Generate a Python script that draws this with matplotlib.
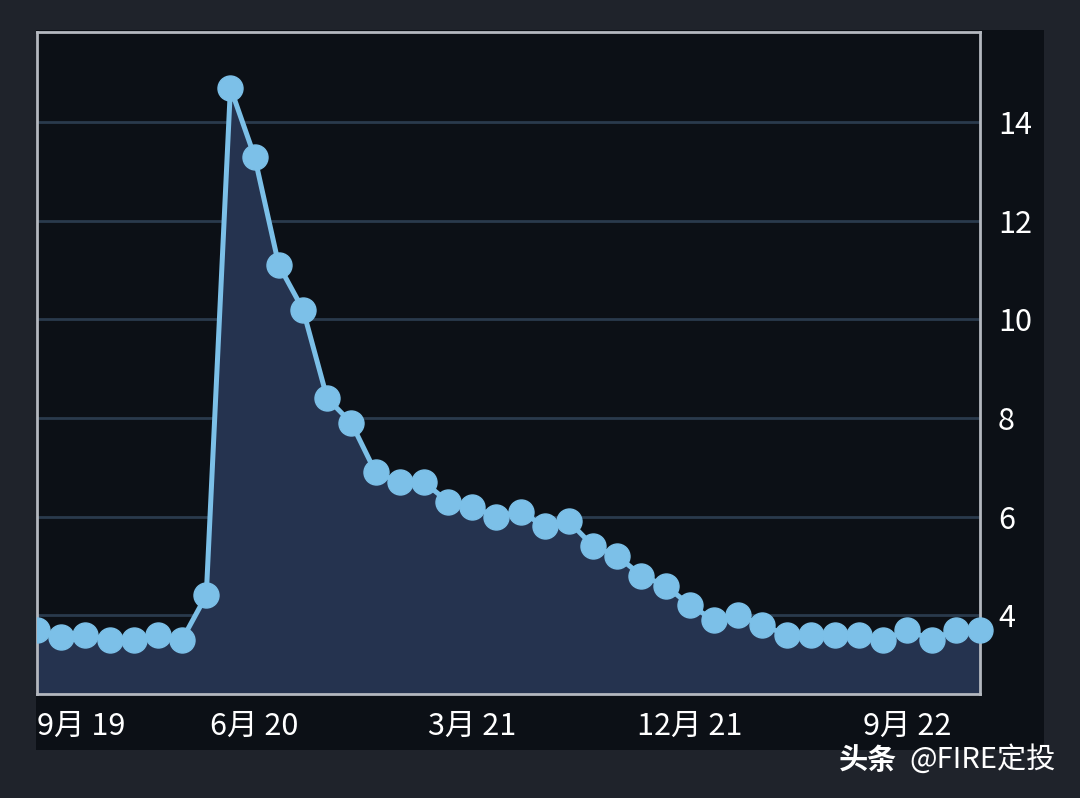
import matplotlib
matplotlib.use("Agg")
import matplotlib.pyplot as plt
from matplotlib.patches import Rectangle
from matplotlib.transforms import Bbox, TransformedBbox

plt.rcParams['font.family'] = ['Noto Sans CJK SC', 'DejaVu Sans']

# monthly values, Sep 2019 .. Dec 2022
values = [3.7, 3.55, 3.6, 3.5, 3.5, 3.6, 3.5, 4.4, 14.7, 13.3,
          11.1, 10.2, 8.4, 7.9, 6.9, 6.7, 6.7, 6.3, 6.2, 6.0,
          6.1, 5.8, 5.9, 5.4, 5.2, 4.8, 4.6, 4.2, 3.9, 4.0,
          3.8, 3.6, 3.6, 3.6, 3.6, 3.5, 3.7, 3.5, 3.7, 3.7]
tick_pos = [0, 9, 18, 27, 36]
tick_labels = ["9月 19", "6月 20", "3月 21", "12月 21", "9月 22"]
y_ticks = [4, 6, 8, 10, 12, 14]

W, H = 1080, 798
fig = plt.figure(figsize=(W / 100, H / 100), dpi=100)
fig.patch.set_facecolor('#1f232b')

# dark panel behind the chart
fig.patches.append(Rectangle((36 / W, (H - 750) / H), (1044 - 36) / W, (750 - 30) / H,
                             transform=fig.transFigure, facecolor='#0c1016',
                             edgecolor='none', zorder=-5))

ax = fig.add_axes([37 / W, (H - 694) / H, (980 - 37) / W, (694 - 32) / H])
ax.set_facecolor('#0c1016')

x = list(range(len(values)))
ymin, ymax = 2.4, 15.83
ax.set_xlim(0, len(values) - 1)
ax.set_ylim(ymin, ymax)

ax.fill_between(x, values, ymin, color='#25334f', zorder=1)
line, = ax.plot(x, values, color='#7cc0e8', lw=3.6, marker='o', ms=18,
                mec='#7cc0e8', mfc='#7cc0e8', zorder=3)
line.set_clip_path(None)
line.set_clip_box(TransformedBbox(Bbox([[37 / W, 0], [1, 1]]), fig.transFigure))
line.set_clip_on(True)

for y in y_ticks:
    ax.axhline(y, color='#2a3a4c', lw=2, zorder=0.5)

for s in ax.spines.values():
    s.set_color('#b4b8bf')
    s.set_linewidth(2)
    s.set_zorder(2)

ax.yaxis.tick_right()
ax.set_yticks(y_ticks)
ax.set_yticklabels([str(v) for v in y_ticks])
ax.set_xticks(tick_pos)
ax.set_xticklabels(tick_labels)
ax.tick_params(axis='both', length=0, colors='white', labelsize=22)
ax.tick_params(axis='y', pad=13)
ax.tick_params(axis='x', pad=12)
ax.get_xticklabels()[0].set_horizontalalignment('left')

fig.text(897 / W, (H - 760) / H, "头条", color='white', fontsize=21,
         fontweight='bold', ha='right', va='center')
fig.text(1056 / W, (H - 760) / H, "@FIRE定投", color='white', fontsize=21,
         ha='right', va='center')

fig.savefig("out.png", dpi=100, facecolor=fig.get_facecolor())
